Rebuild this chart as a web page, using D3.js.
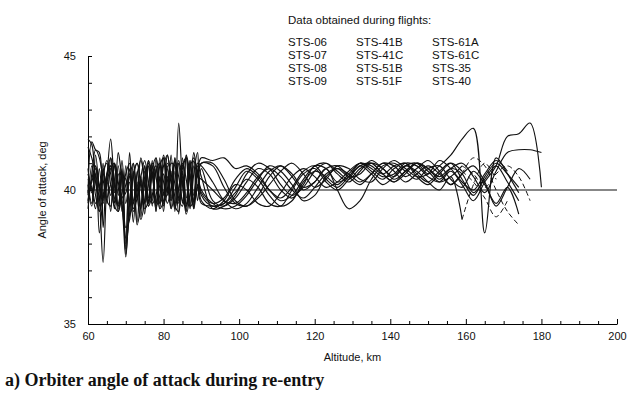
<!DOCTYPE html>
<html>
<head>
<meta charset="utf-8">
<script src="https://cdn.jsdelivr.net/npm/d3@7"></script>
<style>
  body { margin: 0; background: #fff; }
  text { font-family: "Liberation Sans", Arial, sans-serif; fill: #111; }
</style>
</head>
<body>
<div id="chart"></div>
<script>
// altitude grid, km (dense below 90 km, every 3 km above)
const altitude = [60, 61, 62, 63, 64, 65, 66, 67, 68, 69, 70, 71, 72, 73, 74, 75, 76, 77, 78, 79, 80,
  81, 82, 83, 84, 85, 86, 87, 88, 89, 90,
  93, 96, 99, 102, 105, 108, 111, 114, 117, 120, 123, 126, 129, 132, 135, 138, 141, 144, 147, 150,
  153, 156, 159, 162, 165, 168, 171, 174, 177, 180]

// angle of attack, deg, per flight (null = no data)
const sts06 = [41.9, 41.7, 40.3, 39.6, 40.8, 39.5, 41.2, 39.9, 40.6, 39.2, 40.9, 39.4, 41.0, 39.7, 40.5, 39.1, 41.1, 39.6, 40.8, 39.3, 41.2, 39.8, 40.7, 39.2, 41.0, 39.5, 41.3, 39.4, 40.9, 39.6, 40.8,
  39.6, 39.4, 39.7, 40.3, 40.8, 40.6, 40.0, 39.7, 40.2, 40.9, 40.8, 40.3, 40.5, 41.0, 40.7, 40.4, 40.8, 41.0, 40.6, 40.3, 40.7, 41.0, 40.4, 39.8, 40.5, 41.0, 40.6, 40.1, null, null]
const sts07 = [39.8, 41.8, 41.5, 41.4, 38.6, 40.5, 40.9, 40.2, 39.4, 39.9, 40.6, 41.0, 39.2, 39.7, 40.5, 41.1, 40.3, 39.5, 39.8, 40.9, 41.2, 40.1, 39.6, 40.4, 41.1, 40.2, 39.1, 39.8, 41.4, 40.7, 41.0,
  41.0, 40.4, 39.6, 39.4, 39.8, 40.5, 40.9, 40.6, 40.1, 40.3, 40.8, 40.9, 40.5, 40.2, 40.6, 41.0, 40.9, 40.5, 40.8, 41.1, 40.7, 40.2, 40.6, 41.2, 40.9, 40.0, 39.2, 38.7, null, null]
const sts08 = [40.2, 39.5, 41.3, 39.8, 37.3, 40.4, 41.9, 40.2, 39.3, 40.6, 37.6, 39.5, 40.7, 38.8, 40.4, 39.6, 40.9, 39.4, 41.2, 39.5, 40.6, 39.9, 41.3, 39.4, 42.5, 40.3, 39.2, 41.1, 39.6, 40.7, 41.2,
  41.1, 41.2, 40.8, 40.9, 40.6, 40.0, 39.6, 39.8, 40.4, 40.9, 41.0, 40.6, 40.3, 40.7, 41.1, 40.8, 40.5, 40.9, 41.0, 40.6, 40.9, 41.3, 41.9, 42.3, 38.4, 41.2, 40.6, 39.9, null, null]
const sts09 = [39.6, 40.4, 40.9, 38.4, 39.7, 40.3, 40.8, 41.0, 40.1, 39.4, 37.5, 39.6, 40.5, 38.7, 39.4, 40.2, 41.1, 40.6, 39.4, 39.8, 40.9, 41.3, 40.2, 39.5, 40.0, 41.0, 40.4, 39.3, 40.6, 41.4, 39.8,
  39.4, 39.5, 39.9, 40.4, 40.1, 39.5, 39.4, 40.0, 40.6, 40.8, 40.3, 40.0, 40.4, 40.9, 40.6, 40.2, 40.5, 40.9, 40.7, 40.3, 40.0, 40.5, 38.9, 40.2, 41.0, 40.4, null, null, null, null]
const sts41b = [40.8, 39.9, 40.6, 39.4, 41.0, 39.7, 40.2, 39.3, 40.9, 39.5, 38.2, 41.4, 39.6, 40.3, 39.0, 40.7, 39.5, 40.9, 39.2, 41.2, 39.4, 40.8, 39.7, 41.2, 39.5, 40.5, 39.2, 41.0, 39.4, 40.9, 40.5,
  39.3, 39.4, 39.8, 40.6, 41.0, 40.8, 40.2, 39.8, 40.1, 40.7, 41.0, 40.7, 40.4, 40.8, 41.0, 40.6, 40.3, 40.6, 41.0, 40.8, 40.4, 40.8, 41.0, 40.5, 39.9, 40.7, 41.4, 41.5, 41.5, 41.4]
const sts41c = [39.3, 40.6, 41.5, 41.2, 40.4, 39.6, 39.4, 41.0, 40.3, 39.5, 40.2, 40.6, 39.3, 39.9, 41.2, 40.4, 39.4, 39.8, 40.7, 41.0, 40.3, 39.5, 40.1, 41.1, 40.5, 39.6, 39.4, 40.8, 41.2, 40.6, 40.0,
  39.5, 39.3, 39.4, 39.8, 40.4, 40.9, 40.7, 40.2, 39.6, 39.8, 40.5, 40.8, 40.6, 40.3, 40.6, 41.0, 40.7, 40.3, 40.6, 40.9, 40.6, 40.2, 40.6, 40.9, 40.3, 39.4, 40.1, 40.8, 40.4, null]
const sts51b = [40.0, 39.4, 40.9, 40.2, 39.7, 40.5, 39.2, 40.9, 39.8, 41.1, 39.5, 40.3, 38.8, 40.7, 39.4, 40.9, 39.7, 41.1, 39.5, 40.5, 39.2, 40.9, 39.6, 40.7, 39.1, 41.2, 39.7, 40.6, 39.3, 41.0, 40.9,
  40.3, 39.6, 39.3, 39.5, 40.1, 40.7, 40.9, 40.5, 40.0, 40.3, 40.8, 40.0, 39.3, 39.6, 40.4, 40.9, 41.0, 40.7, 40.4, 40.8, 40.9, 40.4, 40.1, 40.7, 40.2, 39.5, 40.1, 39.1, null, null]
const sts51f = [40.4, 40.1, 39.5, 40.0, 40.7, 41.0, 40.2, 39.4, 39.2, 40.8, 38.0, 39.1, 40.5, 41.0, 40.1, 39.3, 39.6, 40.8, 41.2, 40.3, 39.5, 39.9, 41.0, 40.9, 39.7, 39.4, 41.3, 40.6, 39.6, 40.1, 41.0,
  40.9, 40.1, 39.5, 39.4, 39.7, 40.2, 40.7, 41.0, 40.6, 40.1, 40.4, 40.9, 40.8, 40.4, 40.3, 40.8, 41.1, 40.8, 40.5, 40.6, 41.1, 40.8, 40.3, 40.0, 40.6, 41.1, 40.7, null, null, null]
const sts61a = [41.6, 41.2, 40.5, 39.2, 39.8, 40.6, 40.9, 39.5, 41.4, 40.6, 40.4, 39.1, 39.5, 40.6, 41.1, 40.2, 39.4, 40.6, 40.9, 39.5, 39.9, 41.3, 40.4, 39.3, 40.1, 40.8, 41.2, 39.4, 39.6, 40.7, 39.6,
  39.3, 39.6, 40.2, 40.0, 39.5, 39.4, 39.9, 40.5, 40.8, 40.5, 40.1, 40.3, 40.7, 41.0, 40.8, 40.5, 40.6, 41.0, 40.9, 40.5, 40.3, 40.7, 40.2, 39.6, 40.3, 40.9, 42.0, 42.1, 42.5, 40.1]
const sts61c = [39.5, 40.9, 39.8, 39.2, 40.5, 41.1, 40.6, 39.7, 39.5, 40.7, 38.6, 38.9, 40.6, 41.0, 40.3, 39.5, 40.2, 41.0, 40.5, 39.3, 39.6, 41.0, 40.6, 39.4, 39.2, 40.9, 41.2, 40.3, 39.3, 40.2, 39.5,
  39.4, 39.5, 40.1, 40.7, 40.4, 39.8, 39.4, 39.6, 40.3, 40.7, 40.5, 40.2, 40.6, 41.0, 40.9, 40.6, 40.9, 41.0, 40.5, 40.2, 40.6, 41.0, 40.7, 40.3, 39.7, 39.0, 39.6, null, null, null]
const sts35 = [40.6, 40.0, 39.3, 40.8, 39.6, 40.3, 39.8, 41.0, 39.4, 40.5, 37.8, 40.8, 39.5, 40.2, 39.3, 40.9, 39.5, 40.6, 39.2, 41.0, 39.8, 40.5, 39.3, 41.2, 39.6, 40.7, 39.4, 41.1, 39.8, 40.6, 39.9,
  39.5, 39.7, 40.4, 40.8, 40.5, 40.0, 39.7, 40.1, 40.7, 40.9, 40.4, 40.1, 40.5, 40.9, 41.0, 40.6, 40.3, 40.7, 41.0, 40.7, 40.3, 40.5, 40.9, 40.6, 40.1, 40.6, 40.9, 40.5, 39.6, null]
const sts40 = [39.9, 40.3, 40.8, 40.1, 39.5, 40.6, 41.2, 40.4, 39.2, 39.7, 39.9, 40.5, 41.0, 39.8, 38.9, 39.6, 41.0, 40.6, 39.5, 40.2, 41.3, 40.4, 39.3, 39.9, 41.0, 40.6, 39.5, 39.8, 41.1, 40.5, 40.4,
  40.0, 39.6, 39.5, 39.9, 40.5, 40.8, 40.5, 40.0, 39.7, 40.1, 40.6, 40.8, 40.5, 40.6, 41.0, 40.8, 40.4, 40.7, 41.0, 40.8, 40.5, 40.8, 40.6, 39.9, 40.4, 40.9, 40.3, 39.6, null, null]

const flights = [
  ['STS-06', sts06], ['STS-07', sts07], ['STS-08', sts08], ['STS-09', sts09],
  ['STS-41B', sts41b], ['STS-41C', sts41c], ['STS-51B', sts51b], ['STS-51F', sts51f],
  ['STS-61A', sts61a], ['STS-61C', sts61c], ['STS-35', sts35], ['STS-40', sts40]
]
// flights whose sparse upper end is drawn dashed
const dashedTail = ['STS-07', 'STS-09', 'STS-61C', 'STS-35']
const nominalAlpha = 40

const width = 629
const height = 400
const margin = { top: 56, left: 88 }
const w = 617 - margin.left
const h = 324 - margin.top

const svg = d3.select('#chart')
  .append('svg')
  .attr('width', width)
  .attr('height', height)
const g = svg.append('g')
  .attr('transform', `translate(${margin.left},${margin.top})`)

const xs = d3.scaleLinear().domain([60, 200]).range([0, w])
const ys = d3.scaleLinear().domain([35, 45]).range([h, 0])

// axes, ticks pointing inward
g.append('g')
  .attr('transform', `translate(0,${h})`)
  .call(d3.axisBottom(xs).tickValues(d3.range(60, 201, 5)).tickSizeOuter(0)
    .tickSizeInner(-3).tickPadding(8)
    .tickFormat((d) => d % 20 === 0 ? d : ''))
  .call((a) => a.selectAll('.tick line').filter((d) => d % 20 === 0).attr('y2', -5))
  .call((a) => a.selectAll('text').style('font-size', '11px'))

g.append('g')
  .call(d3.axisLeft(ys).tickValues(d3.range(35, 46, 1)).tickSizeOuter(0)
    .tickSizeInner(-4).tickPadding(12)
    .tickFormat((d) => d % 5 === 0 ? d : ''))
  .call((a) => a.selectAll('text').style('font-size', '11px'))

// nominal line
g.append('path')
  .attr('d', `M0,${ys(nominalAlpha)}H${w}`)
  .attr('stroke', '#111')
  .attr('stroke-width', 1.1)

// flight traces
const cut = 159
flights.forEach(([name, vals]) => {
  const pts = altitude.map((a, i) => ({ a, v: vals[i] })).filter((d) => d.v != null)
  const line = d3.line()
    .x((d) => xs(d.a))
    .y((d) => ys(d.v))
    .curve(d3.curveCatmullRom.alpha(0.5))
  const dashed = dashedTail.includes(name)
  const head = dashed ? pts.filter((d) => d.a <= cut) : pts
  g.append('path')
    .datum(head)
    .attr('d', line)
    .attr('fill', 'none')
    .attr('stroke', '#111')
    .attr('stroke-width', 1.15)
  if (dashed) {
    g.append('path')
      .datum(pts.filter((d) => d.a >= cut))
      .attr('d', line)
      .attr('fill', 'none')
      .attr('stroke', '#111')
      .attr('stroke-width', 1)
      .attr('stroke-dasharray', '5 3')
  }
})

// axis labels
g.append('text')
  .attr('x', xs(130))
  .attr('y', h + 37)
  .attr('text-anchor', 'middle')
  .style('font-size', '11px')
  .text('Altitude, km')
g.append('text')
  .attr('transform', 'rotate(-90)')
  .attr('x', -(ys(40)))
  .attr('y', -42)
  .attr('text-anchor', 'middle')
  .style('font-size', '11px')
  .text('Angle of attack, deg')

// legend
svg.append('text')
  .attr('x', 288)
  .attr('y', 24)
  .style('font-size', '11.5px')
  .text('Data obtained during flights:')
const cols = [288, 356, 432]
flights.forEach(([name], i) => {
  svg.append('text')
    .attr('x', cols[Math.floor(i / 4)])
    .attr('y', 46 + (i % 4) * 13)
    .style('font-size', '11.5px')
    .text(name)
})

// caption
svg.append('text')
  .attr('x', 5)
  .attr('y', 386)
  .style('font-family', '"Liberation Serif", "Times New Roman", serif')
  .style('font-weight', 'bold')
  .style('font-size', '18px')
  .text('a) Orbiter angle of attack during re-entry')
</script>
</body>
</html>
